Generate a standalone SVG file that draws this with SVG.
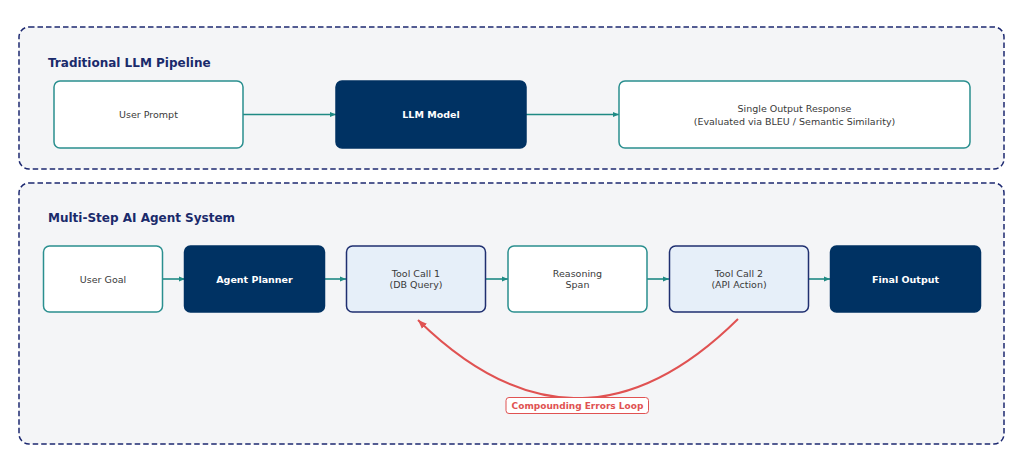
<svg xmlns="http://www.w3.org/2000/svg" width="1024" height="472" viewBox="0 0 1024 472">
<style>
.cont{fill:#f4f5f7;stroke:#1c2870;stroke-width:1.5;stroke-dasharray:5.5,3}
.title{font-family:"DejaVu Sans",sans-serif;font-weight:bold;font-size:12px;fill:#1a2a6b}
.white{fill:#ffffff;stroke:#2a8f8f;stroke-width:1.5}
.navy{fill:#003263;stroke:#003263;stroke-width:1.5}
.tool{fill:#e6eff9;stroke:#1f2f70;stroke-width:1.5}
.lbl{font-family:"DejaVu Sans",sans-serif;font-size:9.5px;fill:#3a3a3a;text-anchor:middle}
.lblw{font-family:"DejaVu Sans",sans-serif;font-size:9.5px;font-weight:bold;fill:#ffffff;text-anchor:middle}
.conn{stroke:#1f8a84;stroke-width:1.6;fill:none}
</style>
<defs>
<marker id="ah" viewBox="0 0 10 10" refX="10" refY="5" markerWidth="6" markerHeight="6" markerUnits="userSpaceOnUse" orient="auto">
<path d="M0,1 L10,5 L0,9 z" fill="#1f8a84"/>
</marker>
<marker id="ahr" viewBox="0 0 10 10" refX="10" refY="5" markerWidth="9" markerHeight="9" markerUnits="userSpaceOnUse" orient="auto">
<path d="M0,1 L10,5 L0,9 z" fill="#e05252"/>
</marker>
</defs>

<g id="container-traditional">
<rect class="cont" x="19" y="27" width="985" height="142" rx="10"/>
<text class="title" x="48" y="67">Traditional LLM Pipeline</text>
</g>
<g id="container-agent">
<rect class="cont" x="19" y="183" width="985" height="261" rx="10"/>
<text class="title" x="48" y="222">Multi-Step AI Agent System</text>
</g>

<g id="connectors">
<line class="conn" x1="241" y1="114.5" x2="336" y2="114.5" marker-end="url(#ah)"/>
<line class="conn" x1="525" y1="114.5" x2="619" y2="114.5" marker-end="url(#ah)"/>
<line class="conn" x1="161" y1="279" x2="185" y2="279" marker-end="url(#ah)"/>
<line class="conn" x1="323" y1="279" x2="346" y2="279" marker-end="url(#ah)"/>
<line class="conn" x1="484" y1="279" x2="508" y2="279" marker-end="url(#ah)"/>
<line class="conn" x1="645" y1="279" x2="669" y2="279" marker-end="url(#ah)"/>
<line class="conn" x1="806" y1="279" x2="830" y2="279" marker-end="url(#ah)"/>
<path d="M738,319 Q578,477 418,320" stroke="#e05252" stroke-width="2" fill="none" marker-end="url(#ahr)"/>
</g>

<g id="node-user-prompt">
<rect class="white" x="54" y="81" width="189" height="67" rx="6"/>
<text class="lbl" x="148.5" y="117.5">User Prompt</text>
</g>
<g id="node-llm-model">
<rect class="navy" x="336" y="81" width="190" height="67" rx="6"/>
<text class="lblw" x="431" y="117.5">LLM Model</text>
</g>
<g id="node-single-output">
<rect class="white" x="619" y="81" width="351" height="67" rx="6"/>
<text class="lbl" x="794.5" y="111.5">Single Output Response</text>
<text class="lbl" x="794.5" y="124.5">(Evaluated via BLEU / Semantic Similarity)</text>
</g>

<g id="node-user-goal">
<rect class="white" x="43.5" y="246" width="119" height="66" rx="6"/>
<text class="lbl" x="103" y="282.5">User Goal</text>
</g>
<g id="node-agent-planner">
<rect class="navy" x="184.5" y="246" width="140" height="66" rx="6"/>
<text class="lblw" x="254.5" y="282.5">Agent Planner</text>
</g>
<g id="node-tool-call-1">
<rect class="tool" x="346.5" y="246" width="139" height="66" rx="6"/>
<text class="lbl" x="416" y="276.5">Tool Call 1</text>
<text class="lbl" x="416" y="287.5">(DB Query)</text>
</g>
<g id="node-reasoning-span">
<rect class="white" x="508" y="246" width="139" height="66" rx="6"/>
<text class="lbl" x="577.5" y="276.5">Reasoning</text>
<text class="lbl" x="577.5" y="287.5">Span</text>
</g>
<g id="node-tool-call-2">
<rect class="tool" x="669.5" y="246" width="139" height="66" rx="6"/>
<text class="lbl" x="739" y="276.5">Tool Call 2</text>
<text class="lbl" x="739" y="287.5">(API Action)</text>
</g>
<g id="node-final-output">
<rect class="navy" x="830.5" y="246" width="150" height="66" rx="6"/>
<text class="lblw" x="905.5" y="282.5">Final Output</text>
</g>

<g id="label-compounding">
<rect x="506" y="397.5" width="142.5" height="16" rx="3" fill="#ffffff" stroke="#e05252" stroke-width="1"/>
<text x="577.5" y="409" font-family="DejaVu Sans, sans-serif" font-size="9px" font-weight="bold" fill="#e05252" text-anchor="middle">Compounding Errors Loop</text>
</g>
</svg>
